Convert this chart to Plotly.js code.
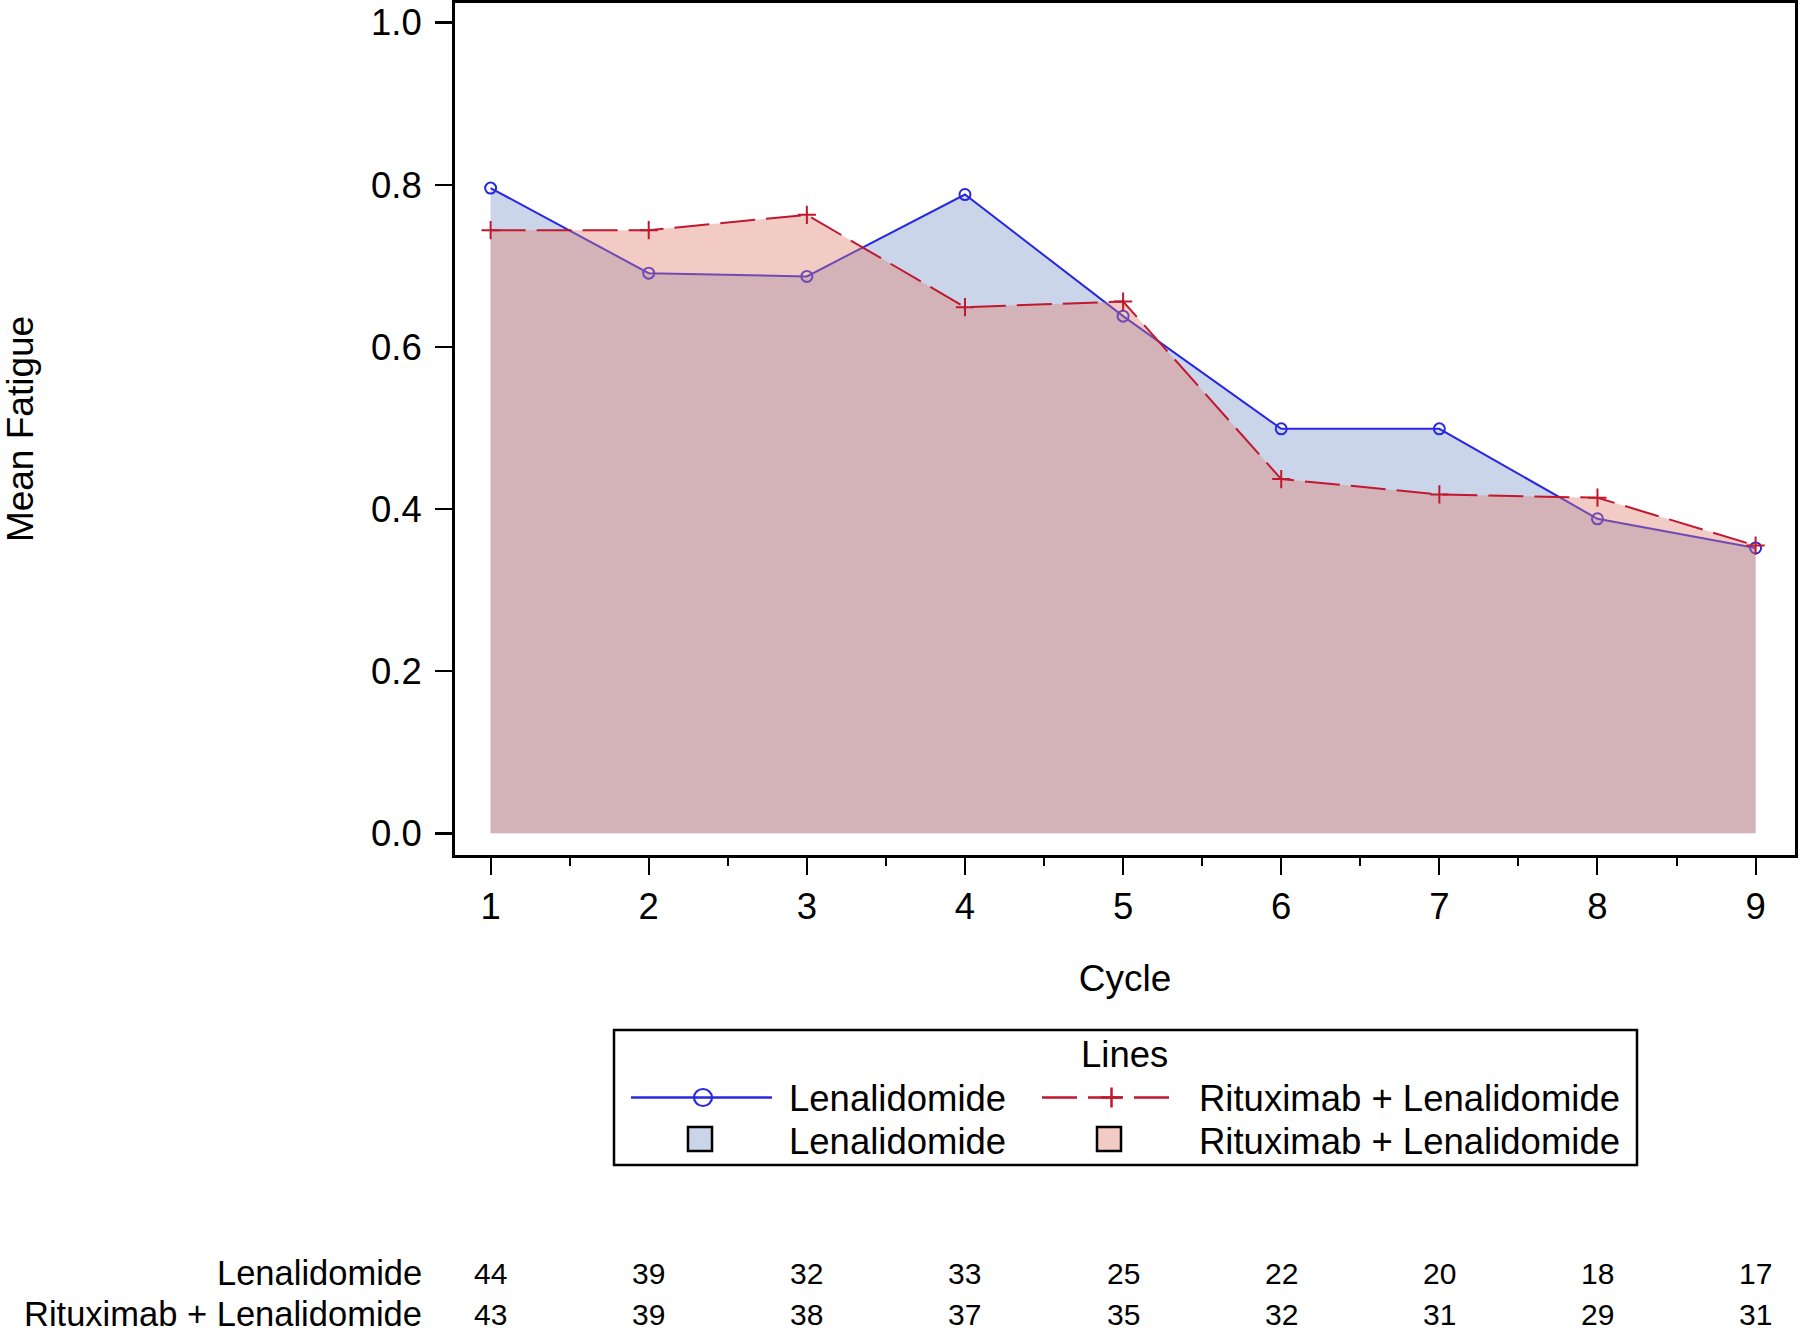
<!DOCTYPE html>
<html>
<head>
<meta charset="utf-8">
<script src="https://cdn.plot.ly/plotly-3.0.1.min.js"></script>
<style>html,body{margin:0;padding:0;background:#fff;}#chart{width:1800px;height:1335px;}</style>
</head>
<body>
<div id="chart"></div>
<script>
// ---- data ----
var cycles = [1, 2, 3, 4, 5, 6, 7, 8, 9];
var lenalidomide = [0.796, 0.691, 0.687, 0.788, 0.638, 0.499, 0.499, 0.388, 0.352];
var rituximabLenalidomide = [0.744, 0.744, 0.763, 0.649, 0.656, 0.437, 0.418, 0.414, 0.355];
var atRiskLen = [44, 39, 32, 33, 25, 22, 20, 18, 17];
var atRiskRL = [43, 39, 38, 37, 35, 32, 31, 29, 31];
var seriesNames = ["Lenalidomide", "Rituximab + Lenalidomide"];
var yTickVals = [0, 0.2, 0.4, 0.6, 0.8, 1.0];
var yTickText = ["0.0", "0.2", "0.4", "0.6", "0.8", "1.0"];

// ---- styles ----
var FONT = "Liberation Sans, Arial, sans-serif";
var blueLine = "rgb(40,40,225)";
var redLine = "rgb(192,24,46)";
var blueFill = "rgba(124,149,202,0.40)";
var redFill = "rgba(222,126,111,0.40)";
var blueSwatch = "rgb(203,213,234)";
var redSwatch = "rgb(242,203,197)";
var LABEL_SIZE = 36.5;
var ROW_LABEL_SIZE = 34.5;
var TICK_SIZE = 36.5;
var NUM_SIZE = 30;

var W = 1800, H = 1335;
var M = {l: 455, r: 5, t: 3, b: 480};
var PW = W - M.l - M.r, PH = H - M.t - M.b;
function px(x) { return (x - M.l) / PW; }
function py(y) { return (H - M.b - y) / PH; }

var traces = [
  {x: cycles, y: lenalidomide, type: "scatter", mode: "none", fill: "tozeroy",
   fillcolor: blueFill, showlegend: false, hoverinfo: "skip"},
  {x: cycles, y: lenalidomide, type: "scatter", mode: "lines+markers", name: seriesNames[0],
   line: {color: blueLine, width: 2},
   marker: {symbol: "circle-open", size: 11, color: blueLine, line: {width: 2, color: blueLine}},
   showlegend: false},
  {x: cycles, y: rituximabLenalidomide, type: "scatter", mode: "none", fill: "tozeroy",
   fillcolor: redFill, showlegend: false, hoverinfo: "skip"},
  {x: cycles, y: rituximabLenalidomide, type: "scatter", mode: "lines+markers", name: seriesNames[1],
   line: {color: redLine, width: 2, dash: "35px,11px"},
   marker: {symbol: "cross-thin-open", size: 13, color: redLine, line: {width: 2, color: redLine}},
   showlegend: false}
];

var annotations = [];
// at-risk table
var rowY = [1273, 1314];
var rows = [atRiskLen, atRiskRL];
for (var r = 0; r < 2; r++) {
  annotations.push({xref: "paper", yref: "paper", x: px(423), y: 0, xanchor: "right", yanchor: "middle",
    yshift: -(rowY[r] - (H - M.b)), text: seriesNames[r], showarrow: false, borderpad: 0,
    font: {family: FONT, size: ROW_LABEL_SIZE, color: "#000"}});
  for (var i = 0; i < cycles.length; i++) {
    annotations.push({xref: "x", yref: "paper", x: cycles[i], y: 0, xanchor: "center", yanchor: "middle",
      yshift: -(rowY[r] - (H - M.b)), text: String(rows[r][i]), showarrow: false, borderpad: 0,
      font: {family: FONT, size: NUM_SIZE, color: "#000"}});
  }
}
// legend (manual)
annotations.push({xref: "paper", yref: "paper", x: px(1124), y: py(1054), xanchor: "center", yanchor: "middle",
  text: "Lines", showarrow: false, font: {family: FONT, size: LABEL_SIZE, color: "#000"}});
var legRows = [1098, 1141];
for (var k = 0; k < 2; k++) {
  annotations.push({xref: "paper", yref: "paper", x: px(787), y: py(legRows[k]), xanchor: "left", yanchor: "middle",
    text: seriesNames[0], showarrow: false, font: {family: FONT, size: LABEL_SIZE, color: "#000"}});
  annotations.push({xref: "paper", yref: "paper", x: px(1197), y: py(legRows[k]), xanchor: "left", yanchor: "middle",
    text: seriesNames[1], showarrow: false, font: {family: FONT, size: LABEL_SIZE, color: "#000"}});
}

var shapes = [
  {type: "rect", xref: "paper", yref: "paper", x0: px(614), x1: px(1637), y0: py(1030), y1: py(1165),
   line: {color: "#000", width: 2.5}, fillcolor: "rgba(0,0,0,0)"},
  {type: "line", xref: "paper", yref: "paper", x0: px(631), x1: px(772), y0: py(1097.5), y1: py(1097.5),
   line: {color: blueLine, width: 2.5}},
  {type: "circle", xref: "paper", yref: "paper", x0: px(694), x1: px(712), y0: py(1089), y1: py(1106),
   line: {color: blueLine, width: 2.2}, fillcolor: "rgba(0,0,0,0)"},
  {type: "line", xref: "paper", yref: "paper", x0: px(1042), x1: px(1172), y0: py(1097.5), y1: py(1097.5),
   line: {color: redLine, width: 2.5, dash: "35px,11px"}},
  {type: "line", xref: "paper", yref: "paper", x0: px(1101), x1: px(1122), y0: py(1097.5), y1: py(1097.5),
   line: {color: redLine, width: 2.5}},
  {type: "line", xref: "paper", yref: "paper", x0: px(1111.5), x1: px(1111.5), y0: py(1087.5), y1: py(1107.5),
   line: {color: redLine, width: 2.5}},
  {type: "rect", xref: "paper", yref: "paper", x0: px(688), x1: px(712), y0: py(1127), y1: py(1151),
   line: {color: "#000", width: 2.5}, fillcolor: blueSwatch},
  {type: "rect", xref: "paper", yref: "paper", x0: px(1097), x1: px(1121), y0: py(1127), y1: py(1151),
   line: {color: "#000", width: 2.5}, fillcolor: redSwatch}
];

var layout = {
  width: W, height: H,
  margin: M,
  paper_bgcolor: "#fff", plot_bgcolor: "#fff",
  showlegend: false,
  font: {family: FONT, color: "#000"},
  xaxis: {
    range: [0.7748, 9.2492], tickvals: cycles, ticktext: cycles.map(String),
    ticks: "outside", ticklen: 17, tickwidth: 2, tickcolor: "#000",
    minor: {tick0: 0.5, dtick: 0.5, ticks: "outside", ticklen: 8, tickwidth: 2, tickcolor: "#000"},
    showline: true, linecolor: "#000", linewidth: 3, mirror: true,
    showgrid: false, zeroline: false,
    tickfont: {family: FONT, size: TICK_SIZE, color: "#000"},
    title: {text: "Cycle", font: {family: FONT, size: 37, color: "#000"}, standoff: 40},
    automargin: false
  },
  yaxis: {
    range: [-0.02677, 1.0243], tickvals: yTickVals, ticktext: yTickText,
    ticks: "outside", ticklen: 17, tickwidth: 2.5, tickcolor: "#000",
    showline: true, linecolor: "#000", linewidth: 3, mirror: true,
    showgrid: false, zeroline: false,
    tickfont: {family: FONT, size: TICK_SIZE, color: "#000"},
    ticklabelstandoff: 6,
    title: {text: "Mean Fatigue", font: {family: FONT, size: 37, color: "#000"}, standoff: 340},
    automargin: false
  },
  annotations: annotations,
  shapes: shapes
};

Plotly.newPlot("chart", traces, layout, {staticPlot: true, displayModeBar: false});
</script>
</body>
</html>
